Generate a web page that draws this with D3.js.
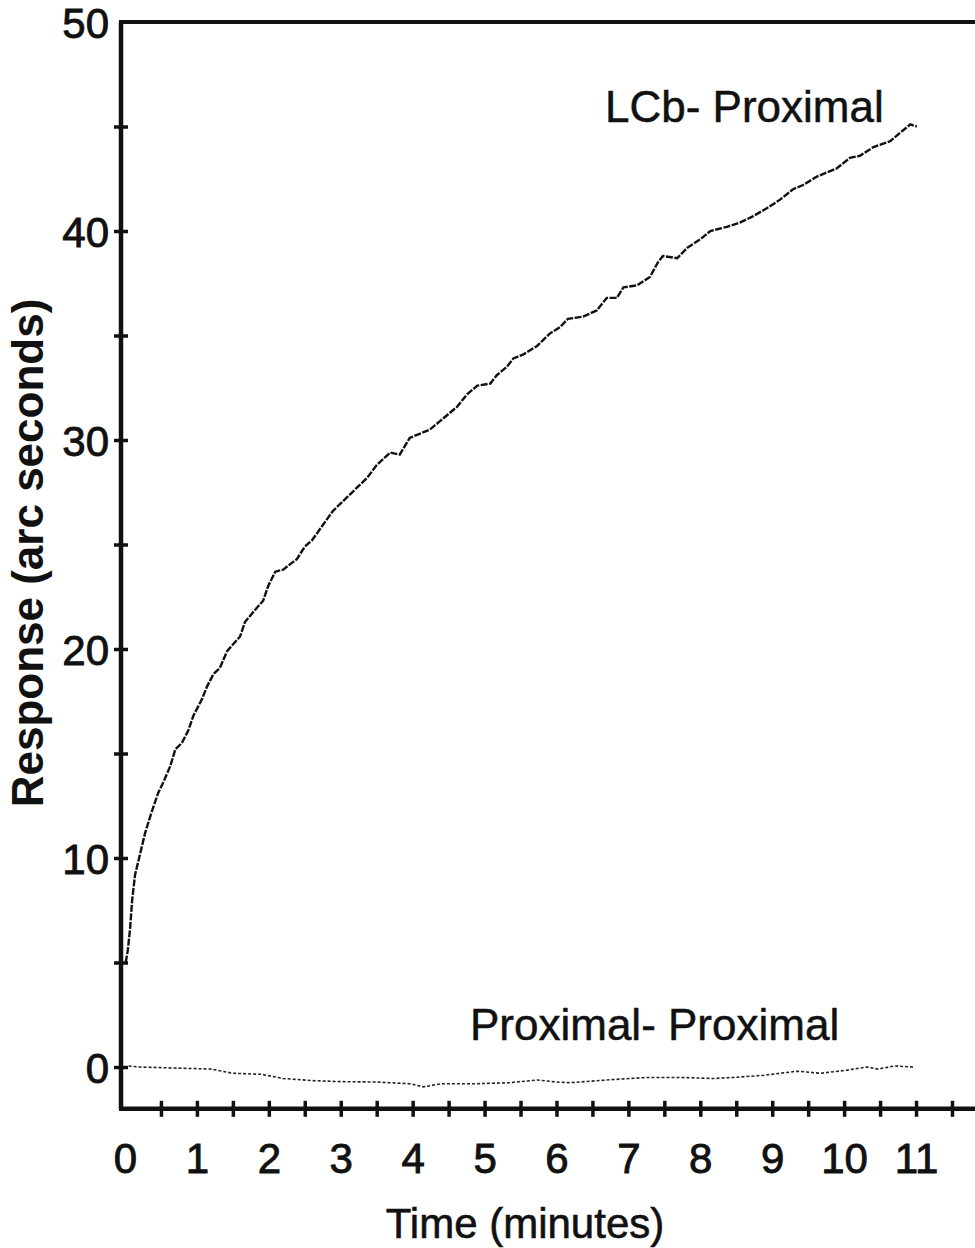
<!DOCTYPE html>
<html>
<head>
<meta charset="utf-8">
<script src="https://cdn.jsdelivr.net/npm/d3@7"></script>
<style>
  html, body { margin: 0; padding: 0; background: #fff; }
  svg { display: block; }
  text { font-family: "Liberation Sans", Arial, sans-serif; fill: #111; }
</style>
</head>
<body>
<div id="chart"></div>
<script>
// ---- data ----
const lcbTime  = [0.01, 0.04, 0.07, 0.10, 0.14, 0.21, 0.28, 0.37, 0.46, 0.53, 0.63, 0.70, 0.79, 0.88, 0.95,
                  1.07, 1.14, 1.23, 1.32, 1.42, 1.60, 1.67, 1.84, 1.92, 1.99, 2.09, 2.20, 2.39, 2.50, 2.60,
                  2.89, 3.13, 3.37, 3.50, 3.69, 3.82, 3.96, 4.24, 4.38, 4.62, 4.76, 4.90, 5.08, 5.17, 5.31,
                  5.40, 5.54, 5.73, 5.91, 6.05, 6.16, 6.37, 6.56, 6.70, 6.84, 6.93, 7.12, 7.30, 7.41, 7.48,
                  7.68, 7.82, 8.00, 8.14, 8.37, 8.55, 8.73, 8.93, 9.11, 9.29, 9.43, 9.62, 9.90, 10.08, 10.22,
                  10.40, 10.64, 10.78, 10.92, 11.01];
const lcbValue = [5.0, 5.6, 6.6, 8.0, 9.2, 10.2, 11.2, 12.2, 13.1, 13.6, 14.4, 15.2, 15.5, 16.1, 16.8,
                  17.6, 18.2, 18.8, 19.1, 19.9, 20.6, 21.3, 22.0, 22.3, 23.0, 23.7, 23.8, 24.3, 24.9, 25.2,
                  26.6, 27.4, 28.2, 28.8, 29.4, 29.3, 30.1, 30.5, 30.9, 31.6, 32.2, 32.6, 32.7, 33.1, 33.5,
                  33.9, 34.1, 34.5, 35.1, 35.4, 35.8, 35.9, 36.2, 36.8, 36.8, 37.3, 37.4, 37.8, 38.5, 38.8,
                  38.7, 39.2, 39.6, 40.0, 40.2, 40.4, 40.7, 41.1, 41.5, 42.0, 42.2, 42.6, 43.0, 43.5, 43.6,
                  44.0, 44.3, 44.7, 45.1, 45.0];
const ppTime  = [0.05, 0.2, 0.7, 1.2, 1.5, 1.9, 2.2, 2.6, 3.0, 3.5, 3.96, 4.15, 4.4, 4.9, 5.35, 5.73,
                 6.0, 6.19, 6.79, 7.26, 7.72, 8.18, 8.46, 8.87, 9.35, 9.67, 10.04, 10.32, 10.47, 10.7, 10.96];
const ppValue = [0.05, 0.0, -0.05, -0.1, -0.3, -0.35, -0.55, -0.65, -0.7, -0.72, -0.8, -0.95, -0.8, -0.8, -0.75, -0.62,
                 -0.72, -0.75, -0.6, -0.5, -0.5, -0.55, -0.5, -0.4, -0.2, -0.3, -0.15, 0.0, -0.1, 0.05, 0.0];

const yTicks = [0, 5, 10, 15, 20, 25, 30, 35, 40, 45, 50];
const yLabels = ["0", "", "10", "", "20", "", "30", "", "40", "", "50"];
const xTicks = [0, 0.5, 1, 1.5, 2, 2.5, 3, 3.5, 4, 4.5, 5, 5.5, 6, 6.5, 7, 7.5, 8, 8.5, 9, 9.5, 10, 10.5, 11, 11.5];
const xLabelValues = [0, 1, 2, 3, 4, 5, 6, 7, 8, 9, 10, 11];

const seriesNames = ["LCb- Proximal", "Proximal- Proximal"];
const xTitle = "Time (minutes)";
const yTitle = "Response (arc seconds)";

// ---- drawing ----
const W = 975, H = 1248;
const svg = d3.select("#chart").append("svg").attr("width", W).attr("height", H);

const x = d3.scaleLinear().domain([0, 11.82]).range([125, 975]);
const y = d3.scaleLinear().domain([-2, 50]).range([1108.8, 22]);
const axisX = 121;
const ink = "#111";

// top border
svg.append("line")
  .attr("x1", axisX - 2).attr("x2", W).attr("y1", y(50)).attr("y2", y(50))
  .attr("stroke", ink).attr("stroke-width", 4);

// y axis
const yAxis = d3.axisLeft(y).tickValues(yTicks)
  .tickFormat((d, i) => yLabels[i]).tickSize(7).tickPadding(10);
const gy = svg.append("g").attr("transform", `translate(${axisX},0)`).call(yAxis);
gy.select(".domain").attr("stroke", ink).attr("stroke-width", 4.5).attr("d", `M0,${y(50)}V${y(-2)}`);
gy.selectAll(".tick line").attr("x1", -7).attr("x2", 7).attr("stroke", ink).attr("stroke-width", 3.5);
gy.selectAll(".tick text").attr("font-size", 42).attr("font-family", "Liberation Sans, Arial, sans-serif")
  .attr("fill", ink).attr("stroke", ink).attr("stroke-width", 0.9).attr("x", -12).attr("dy", "0.36em");
gy.selectAll(".tick").filter(d => d === 50).select("line").remove();

// x axis
const xAxis = d3.axisBottom(x).tickValues(xTicks)
  .tickFormat(d => xLabelValues.includes(d) ? String(d) : "").tickSize(8).tickPadding(30);
const gx = svg.append("g").attr("transform", `translate(0,${y(-2)})`).call(xAxis);
gx.select(".domain").attr("stroke", ink).attr("stroke-width", 4.5).attr("d", `M${axisX - 2},0H${W}`);
gx.selectAll(".tick line").attr("y1", -8).attr("y2", 8).attr("stroke", ink).attr("stroke-width", 3.5);
gx.selectAll(".tick").filter(d => d === 0).select("line").remove();
gx.selectAll(".tick text").attr("font-size", 42).attr("font-family", "Liberation Sans, Arial, sans-serif")
  .attr("fill", ink).attr("stroke", ink).attr("stroke-width", 0.9).attr("y", 64).attr("dy", 0);

// axis titles
svg.append("text").attr("x", 525).attr("y", 1238).attr("text-anchor", "middle")
  .attr("font-size", 42).attr("stroke", ink).attr("stroke-width", 0.6).text(xTitle);
svg.append("text").attr("transform", "translate(43,553) rotate(-90)").attr("text-anchor", "middle")
  .attr("font-size", 44).attr("font-weight", "bold").text(yTitle);

// series
const line = d3.line().x(d => x(d[0])).y(d => y(d[1]));
const lcb = lcbTime.map((t, i) => [t, lcbValue[i]]);
const pp = ppTime.map((t, i) => [t, ppValue[i]]);

svg.append("path").datum(lcb).attr("d", line).attr("fill", "none")
  .attr("stroke", ink).attr("stroke-width", 2.4).attr("stroke-dasharray", "7,1.5");
svg.append("path").datum(pp).attr("d", line).attr("fill", "none")
  .attr("stroke", "#222").attr("stroke-width", 1.6).attr("stroke-dasharray", "3,2");

// series labels
svg.append("text").attr("x", 605).attr("y", 122).attr("font-size", 44)
  .attr("stroke", ink).attr("stroke-width", 0.5).text(seriesNames[0]);
svg.append("text").attr("x", 470).attr("y", 1040).attr("font-size", 44)
  .attr("stroke", ink).attr("stroke-width", 0.5).text(seriesNames[1]);
</script>
</body>
</html>
